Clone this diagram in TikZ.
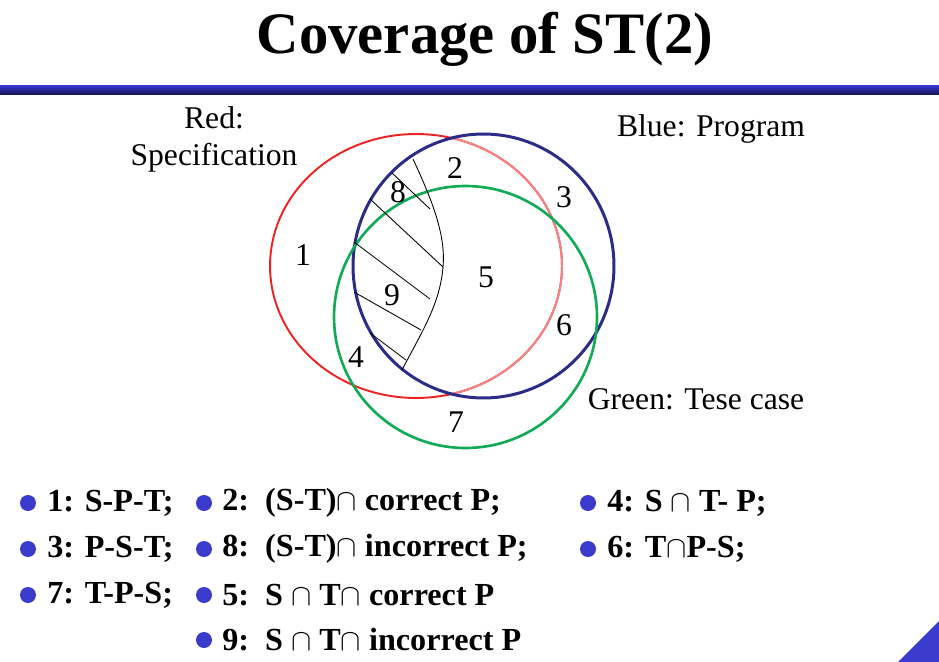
\documentclass[tikz,border=0pt]{standalone}
\usepackage{fontspec}
\setmainfont{Liberation Serif}
\definecolor{specred}{HTML}{EE2222}
\definecolor{specpink}{HTML}{F48484}
\definecolor{progblue}{HTML}{2B2B88}
\definecolor{testgreen}{HTML}{11AA55}
\definecolor{dotblue}{HTML}{3A3ACC}
\definecolor{barblue}{HTML}{3434C8}
\definecolor{bardark}{HTML}{15154A}
\tikzset{
  region/.style={font=\fontsize{18}{20}\selectfont},
  caption/.style={font=\fontsize{18}{21}\selectfont, align=center},
  item/.style={font=\fontsize{18.3}{20}\selectfont\bfseries, anchor=west, inner sep=0pt},
  hatch/.style={black, line width=0.5pt}
}
\begin{document}
\begin{tikzpicture}[x=0.02cm, y=-0.02cm]
    \useasboundingbox (0,0) rectangle (939,662);
    % title and bar
    \node[font=\fontsize{33.4}{38}\selectfont\bfseries] (title) at (485,39) {Coverage of ST(2)};
    \shade[top color=barblue, bottom color=bardark] (0,86) rectangle (939,95);
    \fill[dotblue] (898,662) -- (939,621) -- (939,662) -- cycle;
    % the three sets
    \draw[specred, line width=1.1pt] (416,266) ellipse [x radius=2.92cm, y radius=2.64cm];
    \begin{scope}
      \clip (483.5,266) ellipse [x radius=2.61cm, y radius=2.64cm];
      \draw[specpink, line width=1.1pt] (416,266) ellipse [x radius=2.92cm, y radius=2.64cm];
    \end{scope}
    \draw[progblue, line width=1.7pt] (483.5,266) ellipse [x radius=2.61cm, y radius=2.64cm];
    \draw[testgreen, line width=1.5pt] (465.5,317) ellipse [x radius=2.63cm, y radius=2.62cm];
    % incorrect part of P
    \draw[hatch] (413,159) .. controls (432,200) and (446,235) .. (443,267)
                           .. controls (440,305) and (420,335) .. (402,370);
    \draw[hatch] (392,173) -- (430,209);
    \draw[hatch] (370,199) -- (443,267);
    \draw[hatch] (354,242) -- (430,299);
    \draw[hatch] (354,292) -- (421,330);
    \draw[hatch] (370,333) -- (406,360);
    % region numbers
    \node[region] (r1) at (303,255) {1};
    \node[region] (r2) at (455,168) {2};
    \node[region] (r3) at (564,197) {3};
    \node[region] (r4) at (356,357) {4};
    \node[region] (r5) at (486,277) {5};
    \node[region] (r6) at (564,325) {6};
    \node[region] (r7) at (456,422) {7};
    \node[region] (r8) at (398,192) {8};
    \node[region] (r9) at (392,295) {9};
    % set names
    \node[caption] (spec) at (214,139) {Red:\\Specification};
    \node[caption] (prog) at (711,129) {Blue: Program};
    \node[caption] (test) at (696,399) {Green: Tese case};
    % legend
    \foreach \px/\py in {28/503, 28/549, 28/595, 204/503, 204/549, 204/595, 204/640, 588/503, 588/549}
      \fill[dotblue] (\px,\py) circle (0.16cm);
    \node[item] (l1) at (47,503) {1: S-P-T;};
    \node[item] (l3) at (47,549) {3: P-S-T;};
    \node[item] (l7) at (47,595) {7: T-P-S;};
    \node[item] (l2) at (222,503) {2:\ \ (S-T)$\cap$ correct P;};
    \node[item] (l8) at (222,549) {8:\ \ (S-T)$\cap$ incorrect P;};
    \node[item] (l5) at (222,595) {5:\ \ S $\cap$ T$\cap$ correct P};
    \node[item] (l9) at (222,640) {9:\ \ S $\cap$ T$\cap$ incorrect P};
    \node[item] (l4) at (607,503) {4: S $\cap$ T- P;};
    \node[item] (l6) at (607,549) {6: T$\cap$P-S;};
\end{tikzpicture}
\end{document}
